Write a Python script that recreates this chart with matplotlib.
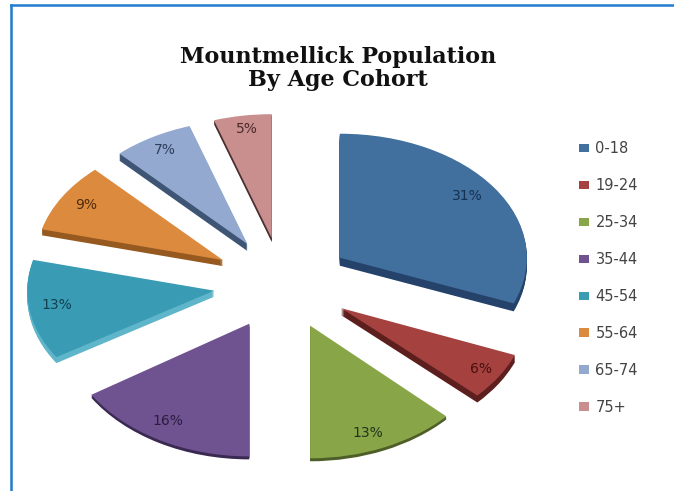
import matplotlib
matplotlib.use('Agg')
import matplotlib.pyplot as plt
from matplotlib.lines import Line2D
from matplotlib.transforms import Affine2D

W, H = 674, 491

# data
cohorts = ['0-18', '19-24', '25-34', '35-44', '45-54', '55-64', '65-74', '75+']
shares = [31, 6, 13, 16, 13, 9, 7, 5]

top_colors = ['#41709f', '#a5413e', '#88a548', '#6f5390', '#3a9bb5', '#dc8a3d', '#93a9cf', '#c98f8e']
side_colors = ['#25426b', '#5c1f1e', '#4d5e28', '#3a2a52', '#5fb5c9', '#96591f', '#3f5575', '#4a3030']
label_colors = ['#16304f', '#4a0f0f', '#26331a', '#2a1c40', '#123f50', '#4d2c0a', '#2c3f5c', '#4a2a2a']
side_depth = [8, 7, 3, 3, 6, 6, 7, 4]

# front slices look taller because of the perspective
stretch = [1.0, 1.03, 1.07, 1.07, 1.0, 1.0, 1.0, 1.0]
# px moves for the percent labels (right, up)
label_nudge = [(2, 5), (12, -7), (-2, -15), (-8, -9), (-8, 1), (-7, 4), (-5, 8), (-1, 10)]

explode = [0.37] * len(shares)

# pie centre and radii in pixels, pie is squashed to look tilted
cx, cy = 282.6, 283.5
rx, ry = 187.0, 124.0

fig = plt.figure(figsize=(W / 100, H / 100), dpi=100, facecolor='white')
ax = fig.add_axes([0, 0, 1, 1])


def stretch_wedges(wedges):
    for w, k in zip(wedges, stretch):
        x0, y0 = w.center
        w.set_transform(Affine2D().translate(-x0, -y0).scale(1, k).translate(x0, y0) + ax.transData)


# side of the slices: same pie repeated lower down
for d in range(max(side_depth), 0, -1):
    cols = [c if d <= s else 'none' for c, s in zip(side_colors, side_depth)]
    low, _ = ax.pie(shares, explode=explode, colors=cols, startangle=90, counterclock=False,
                    center=(0, -d / ry), radius=1, frame=False)
    stretch_wedges(low)

wedges, _, autotexts = ax.pie(shares, explode=explode, colors=top_colors, startangle=90,
                              counterclock=False, radius=1, autopct='%d%%', pctdistance=0.81,
                              textprops={'fontsize': 10}, frame=False)
stretch_wedges(wedges)

for t, (dx, dy), c in zip(autotexts, label_nudge, label_colors):
    x, y = t.get_position()
    t.set_position((x + dx / rx, y + dy / ry))
    t.set_color(c)

ax.set_aspect('auto')
ax.set_xlim((0 - cx) / rx, (W - cx) / rx)
ax.set_ylim((cy - H) / ry, cy / ry)
ax.axis('off')

fig.text(338 / W, 1 - 68.5 / H, 'Mountmellick Population\nBy Age Cohort', ha='center', va='center',
         family='DejaVu Serif', weight='bold', fontsize=16, color='#111111', linespacing=1.05)

ax.legend(wedges, cohorts, loc='center left', bbox_to_anchor=(566 / W, 1 - 278 / H),
          bbox_transform=fig.transFigure, frameon=False, fontsize=10.5, labelcolor='#444444',
          handlelength=0.69, handleheight=0.5, handletextpad=0.43, labelspacing=1.5)

# blue border of the screenshot
fig.add_artist(Line2D([11 / W, 11 / W], [0, 1 - 5 / H], color='#1f7ccf', lw=1.8))
fig.add_artist(Line2D([11 / W, 1], [1 - 5 / H, 1 - 5 / H], color='#1f7ccf', lw=1.8))

fig.savefig('out.png', dpi=100)
plt.close(fig)
